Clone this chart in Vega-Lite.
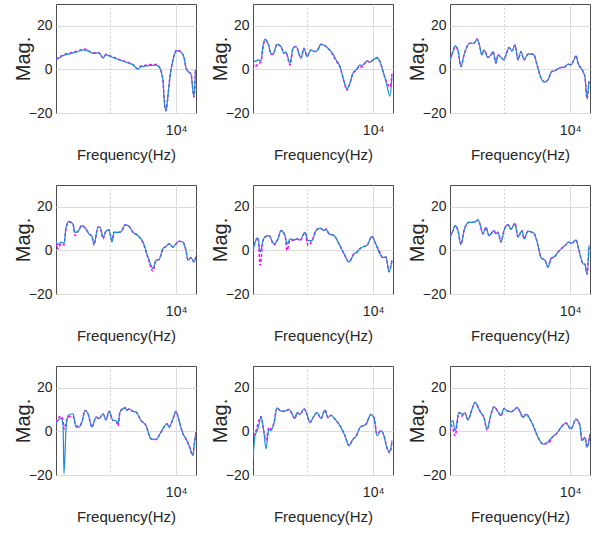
{
"$schema": "https://vega.github.io/schema/vega-lite/v6.json",
"padding": {"left": 12, "top": 3, "right": 2, "bottom": 2},
"data": {"values": [
{"p":1,"f":150,"a":4.4,"b":4.6},{"p":1,"f":173,"a":5.5,"b":5.8},{"p":1,"f":198,"a":6.5,"b":6.8},{"p":1,"f":228,"a":7.0,"b":7.3},{"p":1,"f":302,"a":7.9,"b":8.2},{"p":1,"f":372,"a":8.8,"b":9.2},{"p":1,"f":399,"a":9.0,"b":9.4},{"p":1,"f":459,"a":8.5,"b":8.7},{"p":1,"f":528,"a":7.5,"b":7.6},{"p":1,"f":566,"a":7.3,"b":7.5},{"p":1,"f":651,"a":7.6,"b":7.8},{"p":1,"f":698,"a":7.1,"b":7.2},{"p":1,"f":776,"a":5.2,"b":5.4},{"p":1,"f":861,"a":6.7,"b":6.9},{"p":1,"f":1025,"a":5.8,"b":6.0},{"p":1,"f":1356,"a":4.4,"b":4.6},{"p":1,"f":1732,"a":3.3,"b":3.5},{"p":1,"f":2212,"a":2.1,"b":2.2},{"p":1,"f":2634,"a":0.1,"b":0.2},{"p":1,"f":2925,"a":1.2,"b":1.6},{"p":1,"f":3736,"a":1.7,"b":2.0},{"p":1,"f":4941,"a":2.0,"b":2.3},{"p":1,"f":5487,"a":1.2,"b":1.4},{"p":1,"f":6310,"a":-5,"b":-5},{"p":1,"f":6534,"a":-12.7,"b":-12.7},{"p":1,"f":7007,"a":-19,"b":-19},{"p":1,"f":7514,"a":-12,"b":-12},{"p":1,"f":8058,"a":-3.3,"b":-3.3},{"p":1,"f":8948,"a":4.4,"b":4.6},{"p":1,"f":9597,"a":7.4,"b":7.7},{"p":1,"f":10290,"a":8.5,"b":8.9},{"p":1,"f":11427,"a":8.2,"b":8.4},{"p":1,"f":13142,"a":5.5,"b":5.6},{"p":1,"f":14093,"a":0.6,"b":0.8},{"p":1,"f":15113,"a":-0.9,"b":-0.9},{"p":1,"f":16784,"a":-2.1,"b":-2.1},{"p":1,"f":18638,"a":-12.7,"b":-12.7},{"p":1,"f":19640,"a":0,"b":0},
{"p":2,"f":150,"a":5.2,"b":3},{"p":2,"f":161,"a":3.6,"b":1.2},{"p":2,"f":179,"a":4.4,"b":2.5},{"p":2,"f":198,"a":3.9,"b":3.5},{"p":2,"f":213,"a":11,"b":10},{"p":2,"f":228,"a":13.9,"b":13.5},{"p":2,"f":253,"a":12,"b":12},{"p":2,"f":281,"a":7.4,"b":7},{"p":2,"f":302,"a":7.0,"b":6.8},{"p":2,"f":347,"a":11.5,"b":11.5},{"p":2,"f":399,"a":10.5,"b":10.5},{"p":2,"f":443,"a":7.4,"b":7.4},{"p":2,"f":475,"a":7.9,"b":7.9},{"p":2,"f":547,"a":2.9,"b":2.0},{"p":2,"f":607,"a":9.7,"b":9.7},{"p":2,"f":674,"a":10.5,"b":10.5},{"p":2,"f":803,"a":5.2,"b":5.2},{"p":2,"f":892,"a":9.7,"b":9.7},{"p":2,"f":990,"a":5.9,"b":5.9},{"p":2,"f":1139,"a":8.9,"b":8.9},{"p":2,"f":1309,"a":8.2,"b":8.2},{"p":2,"f":1404,"a":8.5,"b":8.5},{"p":2,"f":1615,"a":11.5,"b":11.5},{"p":2,"f":1857,"a":10.9,"b":10.9},{"p":2,"f":2063,"a":9.7,"b":9.7},{"p":2,"f":2456,"a":7.0,"b":6.5},{"p":2,"f":2728,"a":4.4,"b":4.0},{"p":2,"f":3138,"a":1.4,"b":1.0},{"p":2,"f":3608,"a":-5.5,"b":-5.5},{"p":2,"f":4007,"a":-8.8,"b":-9.5},{"p":2,"f":4449,"a":-6.2,"b":-6.2},{"p":2,"f":4941,"a":-1.7,"b":-1.7},{"p":2,"f":5487,"a":-0.2,"b":-0.5},{"p":2,"f":6310,"a":2.1,"b":1.5},{"p":2,"f":6534,"a":1.8,"b":1.0},{"p":2,"f":7514,"a":2.9,"b":2.9},{"p":2,"f":8058,"a":3.9,"b":3.9},{"p":2,"f":8948,"a":3.3,"b":3.3},{"p":2,"f":9937,"a":4.4,"b":4.4},{"p":2,"f":11427,"a":5.2,"b":5.5},{"p":2,"f":12691,"a":3.6,"b":3.6},{"p":2,"f":14093,"a":-0.9,"b":-0.9},{"p":2,"f":15650,"a":-5.5,"b":-5},{"p":2,"f":17999,"a":-12.3,"b":-8},{"p":2,"f":19302,"a":-3.2,"b":-2},
{"p":3,"f":150,"a":4.4,"b":4.6},{"p":3,"f":167,"a":8.2,"b":8.2},{"p":3,"f":179,"a":10.8,"b":10.5},{"p":3,"f":198,"a":8.9,"b":8.9},{"p":3,"f":220,"a":1.4,"b":1.2},{"p":3,"f":245,"a":6.7,"b":6.7},{"p":3,"f":281,"a":11.2,"b":11.2},{"p":3,"f":302,"a":12,"b":12},{"p":3,"f":347,"a":12,"b":12},{"p":3,"f":386,"a":13.8,"b":14},{"p":3,"f":413,"a":12,"b":12},{"p":3,"f":459,"a":6.7,"b":6.7},{"p":3,"f":492,"a":8.9,"b":8.9},{"p":3,"f":566,"a":5.5,"b":5.5},{"p":3,"f":651,"a":7.4,"b":7.4},{"p":3,"f":674,"a":8.2,"b":8.2},{"p":3,"f":749,"a":2.9,"b":2.9},{"p":3,"f":803,"a":6.7,"b":6.7},{"p":3,"f":892,"a":5.5,"b":5.5},{"p":3,"f":990,"a":4.4,"b":4.4},{"p":3,"f":1062,"a":6.7,"b":6.7},{"p":3,"f":1180,"a":10,"b":10},{"p":3,"f":1309,"a":8.5,"b":8.5},{"p":3,"f":1454,"a":11.2,"b":11.2},{"p":3,"f":1615,"a":4.4,"b":4.4},{"p":3,"f":1794,"a":8.2,"b":8.2},{"p":3,"f":1992,"a":4.4,"b":4.4},{"p":3,"f":2290,"a":7.0,"b":7.0},{"p":3,"f":2543,"a":7.1,"b":7.1},{"p":3,"f":2825,"a":6.7,"b":6.7},{"p":3,"f":3138,"a":2.1,"b":2.1},{"p":3,"f":3608,"a":-3.9,"b":-3.9},{"p":3,"f":4149,"a":-5.8,"b":-5.8},{"p":3,"f":4608,"a":-4.7,"b":-4.7},{"p":3,"f":5298,"a":-0.9,"b":-0.9},{"p":3,"f":5884,"a":-0.6,"b":-0.6},{"p":3,"f":6534,"a":0.3,"b":0.3},{"p":3,"f":7256,"a":0.9,"b":0.9},{"p":3,"f":8058,"a":0.9,"b":0.9},{"p":3,"f":9267,"a":2.4,"b":2.4},{"p":3,"f":10290,"a":2.1,"b":2.1},{"p":3,"f":11427,"a":4.4,"b":4.4},{"p":3,"f":12255,"a":6.2,"b":6.5},{"p":3,"f":13142,"a":2.9,"b":2.9},{"p":3,"f":15650,"a":-0.9,"b":-0.9},{"p":3,"f":16784,"a":-3.6,"b":-3.6},{"p":3,"f":17999,"a":-13,"b":-13.5},{"p":3,"f":19302,"a":-5.5,"b":-5.5},
{"p":4,"f":150,"a":4.5,"b":4},{"p":4,"f":161,"a":2.6,"b":0.8},{"p":4,"f":179,"a":3.8,"b":3},{"p":4,"f":198,"a":3.3,"b":2.5},{"p":4,"f":213,"a":10.6,"b":10},{"p":4,"f":236,"a":13.3,"b":13},{"p":4,"f":272,"a":12.1,"b":12},{"p":4,"f":291,"a":8.3,"b":6.8},{"p":4,"f":324,"a":8.8,"b":8.8},{"p":4,"f":372,"a":11.4,"b":11.4},{"p":4,"f":428,"a":9.8,"b":9.8},{"p":4,"f":475,"a":7.6,"b":7.6},{"p":4,"f":528,"a":6.4,"b":6.4},{"p":4,"f":566,"a":3,"b":2.5},{"p":4,"f":651,"a":10.6,"b":10.6},{"p":4,"f":698,"a":10.6,"b":10.6},{"p":4,"f":776,"a":6.1,"b":5.3},{"p":4,"f":861,"a":8.8,"b":8.8},{"p":4,"f":956,"a":9.4,"b":9.4},{"p":4,"f":1062,"a":3.8,"b":4.5},{"p":4,"f":1139,"a":8.3,"b":8.3},{"p":4,"f":1356,"a":8.3,"b":8.3},{"p":4,"f":1506,"a":9.1,"b":9.1},{"p":4,"f":1673,"a":11.7,"b":11.7},{"p":4,"f":1923,"a":11.1,"b":11.1},{"p":4,"f":2212,"a":8.3,"b":8.3},{"p":4,"f":2634,"a":6.8,"b":6.8},{"p":4,"f":3138,"a":3.8,"b":3.5},{"p":4,"f":3736,"a":-3,"b":-3.5},{"p":4,"f":4449,"a":-8.3,"b":-9.5},{"p":4,"f":4941,"a":-4.5,"b":-4.5},{"p":4,"f":5487,"a":-4.2,"b":-4.2},{"p":4,"f":6310,"a":0.8,"b":0.8},{"p":4,"f":7007,"a":1.8,"b":1.8},{"p":4,"f":7781,"a":3.0,"b":3.0},{"p":4,"f":8948,"a":1.5,"b":1.5},{"p":4,"f":9937,"a":3.0,"b":3.0},{"p":4,"f":11035,"a":4.2,"b":4.2},{"p":4,"f":12691,"a":3.8,"b":3.8},{"p":4,"f":14093,"a":0,"b":0},{"p":4,"f":15113,"a":-4.5,"b":-4.5},{"p":4,"f":16784,"a":-3.3,"b":-3.3},{"p":4,"f":18638,"a":-5.3,"b":-5.3},{"p":4,"f":19987,"a":-2.7,"b":-2.7},
{"p":5,"f":150,"a":-0.3,"b":0},{"p":5,"f":161,"a":3.8,"b":3.5},{"p":5,"f":179,"a":5.8,"b":5.8},{"p":5,"f":192,"a":-0.8,"b":-6.8},{"p":5,"f":213,"a":4.5,"b":4.5},{"p":5,"f":228,"a":6.4,"b":6},{"p":5,"f":262,"a":6.8,"b":6.8},{"p":5,"f":313,"a":3,"b":2.5},{"p":5,"f":359,"a":5.3,"b":5.3},{"p":5,"f":399,"a":9.1,"b":9.1},{"p":5,"f":459,"a":6.8,"b":6.8},{"p":5,"f":492,"a":3,"b":0},{"p":5,"f":547,"a":5.3,"b":4.5},{"p":5,"f":629,"a":4.8,"b":4.8},{"p":5,"f":698,"a":5.3,"b":5.3},{"p":5,"f":776,"a":4.8,"b":4.5},{"p":5,"f":923,"a":8.3,"b":8.3},{"p":5,"f":1025,"a":4.5,"b":2.3},{"p":5,"f":1180,"a":4.5,"b":4.5},{"p":5,"f":1356,"a":9.1,"b":9.1},{"p":5,"f":1560,"a":10.2,"b":10.2},{"p":5,"f":1794,"a":9.1,"b":9.1},{"p":5,"f":1923,"a":9.8,"b":9.8},{"p":5,"f":2136,"a":7.6,"b":7.6},{"p":5,"f":2543,"a":6.8,"b":6.8},{"p":5,"f":3030,"a":3,"b":3},{"p":5,"f":3608,"a":-1.5,"b":-1.5},{"p":5,"f":4296,"a":-5.3,"b":-5.3},{"p":5,"f":5117,"a":-1.5,"b":-1.5},{"p":5,"f":5682,"a":-0.8,"b":-0.8},{"p":5,"f":6310,"a":0.8,"b":0.8},{"p":5,"f":7256,"a":1.8,"b":1.8},{"p":5,"f":8058,"a":2.3,"b":2.3},{"p":5,"f":9597,"a":6.4,"b":6.4},{"p":5,"f":10656,"a":3.8,"b":3.8},{"p":5,"f":12255,"a":-0.8,"b":0},{"p":5,"f":14093,"a":-3.3,"b":-3.3},{"p":5,"f":15650,"a":-3,"b":-3},{"p":5,"f":17380,"a":-9.8,"b":-9.8},{"p":5,"f":19302,"a":-4.5,"b":-4.5},
{"p":6,"f":150,"a":6.1,"b":6.1},{"p":6,"f":167,"a":9.1,"b":9.1},{"p":6,"f":179,"a":11.4,"b":11.4},{"p":6,"f":198,"a":9.1,"b":9.1},{"p":6,"f":220,"a":2.7,"b":2.7},{"p":6,"f":245,"a":9.1,"b":9.1},{"p":6,"f":291,"a":12.9,"b":12.9},{"p":6,"f":347,"a":12.9,"b":12.9},{"p":6,"f":399,"a":13.9,"b":13.9},{"p":6,"f":428,"a":12.1,"b":12.1},{"p":6,"f":475,"a":7.6,"b":7.6},{"p":6,"f":528,"a":10.6,"b":10.6},{"p":6,"f":586,"a":6.8,"b":6.8},{"p":6,"f":698,"a":9.1,"b":9.1},{"p":6,"f":749,"a":7.6,"b":7.6},{"p":6,"f":803,"a":8.3,"b":8.3},{"p":6,"f":892,"a":3.8,"b":3.8},{"p":6,"f":990,"a":9.1,"b":9.1},{"p":6,"f":1139,"a":11.8,"b":11.8},{"p":6,"f":1264,"a":9.8,"b":9.8},{"p":6,"f":1454,"a":12.4,"b":12.4},{"p":6,"f":1615,"a":6.1,"b":6.1},{"p":6,"f":1857,"a":9.1,"b":9.1},{"p":6,"f":1992,"a":5.3,"b":5.3},{"p":6,"f":2290,"a":8.8,"b":8.8},{"p":6,"f":2634,"a":8.3,"b":8.3},{"p":6,"f":2825,"a":7.9,"b":7.9},{"p":6,"f":3249,"a":2.3,"b":2.3},{"p":6,"f":3608,"a":-3.3,"b":-3.3},{"p":6,"f":4149,"a":-4.5,"b":-4.5},{"p":6,"f":4608,"a":-7.6,"b":-7.6},{"p":6,"f":5117,"a":-3.8,"b":-3.8},{"p":6,"f":5884,"a":-2.7,"b":-2.7},{"p":6,"f":6534,"a":-0.8,"b":-0.8},{"p":6,"f":7781,"a":1.5,"b":1.5},{"p":6,"f":8640,"a":2.6,"b":2.6},{"p":6,"f":9267,"a":3.8,"b":3.8},{"p":6,"f":10656,"a":3.3,"b":3.3},{"p":6,"f":12255,"a":4.8,"b":4.8},{"p":6,"f":13610,"a":0,"b":0},{"p":6,"f":15650,"a":-6.1,"b":-6.1},{"p":6,"f":16784,"a":-6.4,"b":-6.4},{"p":6,"f":17999,"a":-10.9,"b":-10.9},{"p":6,"f":19302,"a":2.3,"b":2.3},
{"p":7,"f":150,"a":3.5,"b":4},{"p":7,"f":161,"a":5,"b":6},{"p":7,"f":179,"a":6.1,"b":7},{"p":7,"f":192,"a":2.7,"b":5},{"p":7,"f":198,"a":-19.5,"b":1},{"p":7,"f":213,"a":1.2,"b":4},{"p":7,"f":228,"a":7.3,"b":6.5},{"p":7,"f":272,"a":8.1,"b":7},{"p":7,"f":302,"a":2,"b":2.5},{"p":7,"f":336,"a":2,"b":2.5},{"p":7,"f":372,"a":4.3,"b":4.5},{"p":7,"f":413,"a":9.6,"b":9.6},{"p":7,"f":459,"a":8.1,"b":8.1},{"p":7,"f":528,"a":2,"b":2},{"p":7,"f":607,"a":6.6,"b":6.6},{"p":7,"f":674,"a":5.8,"b":5.8},{"p":7,"f":776,"a":8.1,"b":8.1},{"p":7,"f":861,"a":5.3,"b":5.3},{"p":7,"f":956,"a":9.2,"b":9.2},{"p":7,"f":1100,"a":5.0,"b":5.0},{"p":7,"f":1221,"a":5.0,"b":5.0},{"p":7,"f":1309,"a":3.5,"b":2.5},{"p":7,"f":1404,"a":8.9,"b":8.9},{"p":7,"f":1673,"a":10.7,"b":11},{"p":7,"f":1794,"a":9.6,"b":9.6},{"p":7,"f":1923,"a":10.4,"b":10.4},{"p":7,"f":2212,"a":9.2,"b":9.2},{"p":7,"f":2456,"a":8.9,"b":8.9},{"p":7,"f":2925,"a":5,"b":5},{"p":7,"f":3484,"a":2.7,"b":2.7},{"p":7,"f":4149,"a":-3.4,"b":-3.4},{"p":7,"f":4941,"a":-3.7,"b":-3.7},{"p":7,"f":5682,"a":-1.1,"b":-1.1},{"p":7,"f":6534,"a":2,"b":2},{"p":7,"f":7256,"a":3.5,"b":3.5},{"p":7,"f":7781,"a":2,"b":2},{"p":7,"f":8948,"a":5.8,"b":5.8},{"p":7,"f":9937,"a":9.2,"b":9.2},{"p":7,"f":11035,"a":5,"b":5},{"p":7,"f":12691,"a":-1.1,"b":-1.1},{"p":7,"f":14093,"a":-3.4,"b":-3.4},{"p":7,"f":15650,"a":-6.4,"b":-6.4},{"p":7,"f":17999,"a":-11,"b":-11},{"p":7,"f":18638,"a":-7.2,"b":-7},{"p":7,"f":19987,"a":-0.3,"b":-0.3},
{"p":8,"f":150,"a":-12.5,"b":-2},{"p":8,"f":161,"a":-2,"b":-1},{"p":8,"f":173,"a":0.3,"b":2},{"p":8,"f":185,"a":3,"b":5},{"p":8,"f":198,"a":6.8,"b":6.8},{"p":8,"f":220,"a":-0.5,"b":-0.5},{"p":8,"f":236,"a":-8,"b":-4},{"p":8,"f":262,"a":1.1,"b":1.8},{"p":8,"f":281,"a":0.3,"b":1},{"p":8,"f":313,"a":4,"b":4},{"p":8,"f":347,"a":10.8,"b":10.8},{"p":8,"f":399,"a":9.3,"b":9.3},{"p":8,"f":459,"a":9.3,"b":9.3},{"p":8,"f":528,"a":10.1,"b":10.1},{"p":8,"f":566,"a":8.9,"b":8.9},{"p":8,"f":651,"a":5.9,"b":5.9},{"p":8,"f":698,"a":8.6,"b":8.6},{"p":8,"f":776,"a":7.8,"b":7.8},{"p":8,"f":892,"a":10.4,"b":10.4},{"p":8,"f":990,"a":7.8,"b":7.8},{"p":8,"f":1100,"a":4.1,"b":4.1},{"p":8,"f":1221,"a":6.3,"b":6.3},{"p":8,"f":1404,"a":8.6,"b":8.6},{"p":8,"f":1615,"a":5.9,"b":5.9},{"p":8,"f":1857,"a":9.8,"b":9.8},{"p":8,"f":2063,"a":6.3,"b":6.3},{"p":8,"f":2290,"a":7.4,"b":7.4},{"p":8,"f":2634,"a":5.6,"b":5.6},{"p":8,"f":3138,"a":2.6,"b":2.6},{"p":8,"f":3736,"a":-2,"b":-2},{"p":8,"f":4296,"a":-6.5,"b":-6.5},{"p":8,"f":4941,"a":-3.5,"b":-3.5},{"p":8,"f":5487,"a":-2.3,"b":-2.3},{"p":8,"f":6310,"a":1.8,"b":1.8},{"p":8,"f":7007,"a":2.6,"b":2.6},{"p":8,"f":7781,"a":3.3,"b":3.3},{"p":8,"f":9267,"a":7.8,"b":7.8},{"p":8,"f":10290,"a":6.3,"b":6.3},{"p":8,"f":11427,"a":-2,"b":-1.2},{"p":8,"f":13142,"a":0.3,"b":0.3},{"p":8,"f":14594,"a":-2,"b":-2},{"p":8,"f":16207,"a":-7.7,"b":-7.7},{"p":8,"f":17999,"a":-9.2,"b":-9.8},{"p":8,"f":19302,"a":-4.2,"b":-4.2},
{"p":9,"f":150,"a":1,"b":0.5},{"p":9,"f":155,"a":4.1,"b":3},{"p":9,"f":167,"a":4.9,"b":1},{"p":9,"f":179,"a":0.3,"b":-2},{"p":9,"f":206,"a":8.7,"b":8.7},{"p":9,"f":228,"a":7.9,"b":7},{"p":9,"f":253,"a":8.4,"b":8.4},{"p":9,"f":281,"a":5.3,"b":5.3},{"p":9,"f":324,"a":10.2,"b":10.2},{"p":9,"f":359,"a":13.3,"b":13.3},{"p":9,"f":413,"a":10.2,"b":10.2},{"p":9,"f":443,"a":8.4,"b":8.4},{"p":9,"f":492,"a":6.4,"b":6.4},{"p":9,"f":547,"a":1.1,"b":0.5},{"p":9,"f":629,"a":7.9,"b":7.9},{"p":9,"f":698,"a":11.3,"b":11.3},{"p":9,"f":803,"a":9,"b":9},{"p":9,"f":892,"a":7.2,"b":7.2},{"p":9,"f":990,"a":10.5,"b":10.5},{"p":9,"f":1100,"a":9.5,"b":9.5},{"p":9,"f":1264,"a":9,"b":9},{"p":9,"f":1454,"a":10.2,"b":10.2},{"p":9,"f":1560,"a":11,"b":11},{"p":9,"f":1732,"a":9,"b":9},{"p":9,"f":1923,"a":6.4,"b":6.4},{"p":9,"f":2136,"a":7.9,"b":7.9},{"p":9,"f":2456,"a":5.6,"b":5.6},{"p":9,"f":2825,"a":1.8,"b":1.8},{"p":9,"f":3249,"a":-2.7,"b":-2.7},{"p":9,"f":3869,"a":-5.8,"b":-5.8},{"p":9,"f":4608,"a":-4.7,"b":-5.5},{"p":9,"f":5487,"a":-2.3,"b":-2.3},{"p":9,"f":6310,"a":-0.8,"b":-0.8},{"p":9,"f":7256,"a":1.8,"b":1.8},{"p":9,"f":8640,"a":3.8,"b":3.8},{"p":9,"f":10290,"a":1.1,"b":1.1},{"p":9,"f":12255,"a":5.6,"b":5.6},{"p":9,"f":14093,"a":2.6,"b":2.6},{"p":9,"f":15113,"a":-4.3,"b":-4.3},{"p":9,"f":16784,"a":-2.7,"b":-2.7},{"p":9,"f":17999,"a":-7.3,"b":-7.3},{"p":9,"f":19987,"a":-1.2,"b":-1.2}
]},
"facet": {"field": "p", "type": "ordinal", "title": null, "header": {"title": null, "labels": false, "labelExpr": "''", "labelFontSize": 0, "labelPadding": 0}},
"columns": 3,
"spacing": {"column": 12, "row": 21},
"resolve": {"axis": {"x": "independent", "y": "independent"}},
"spec": {
  "width": 140,
  "height": 109,
  "encoding": {
    "x": {"field": "f", "type": "quantitative",
      "scale": {"type": "log", "domain": [150, 20000], "nice": false},
      "axis": {"title": "Frequency(Hz)", "values": [1000, 10000],
        "labelExpr": "datum.value == 10000 ? '10⁴' : ''",
        "labelFontSize": 14, "labelPadding": 10,
        "titleFontSize": 15, "titlePadding": 10,
        "gridDash": {"condition": {"test": "datum.value == 1000", "value": [1, 3]}, "value": []},
        "gridColor": {"condition": {"test": "datum.value == 1000", "value": "#a8a8a8"}, "value": "#dcdcdc"}}}
  },
  "layer": [
    {"mark": {"type": "line", "color": "#ff00ff", "strokeWidth": 1.5, "strokeDash": [3, 2], "clip": true, "interpolate": "monotone"},
     "encoding": {"y": {"field": "b", "type": "quantitative", "scale": {"domain": [-20, 30], "nice": false, "zero": false},
       "axis": {"title": "Mag.", "values": [-20, 0, 20], "labelFontSize": 14, "labelPadding": 4,
         "titleFontSize": 20, "titlePadding": -5}}}},
    {"mark": {"type": "line", "color": "#1e8bd6", "strokeWidth": 1.2, "clip": true, "interpolate": "monotone"},
     "encoding": {"y": {"field": "a", "type": "quantitative",
       "axis": {"title": "Mag.", "values": [-20, 0, 20], "labelFontSize": 14, "labelPadding": 4,
         "titleFontSize": 20, "titlePadding": -5}}}}
  ]
},
"config": {
  "font": "Liberation Sans",
  "header": {"labels": false, "title": null, "labelFontSize": 0},
  "view": {"stroke": "#4d4d4d", "strokeWidth": 1},
  "axis": {"domain": false, "ticks": false, "tickSize": 0, "gridColor": "#dcdcdc", "labelColor": "#262626", "titleColor": "#262626", "titleFontWeight": "normal", "labelFont": "Liberation Sans", "titleFont": "Liberation Sans"}
}
}
